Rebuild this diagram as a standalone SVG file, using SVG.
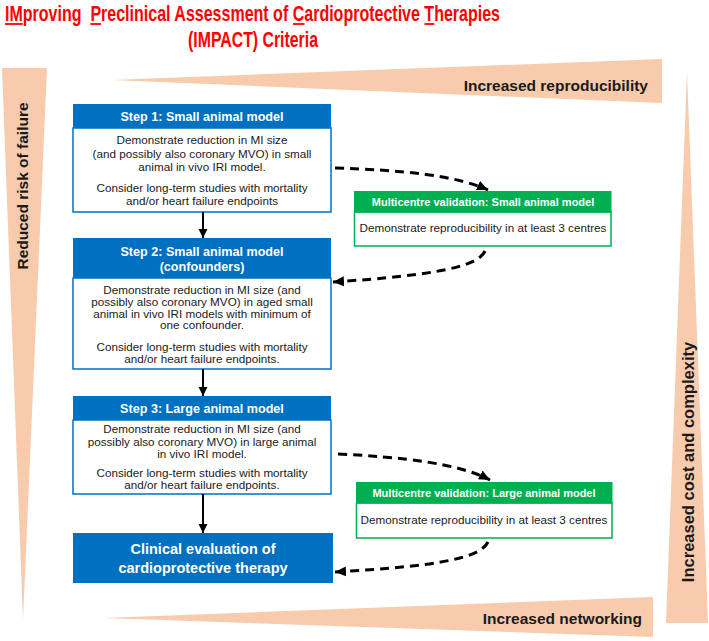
<svg xmlns="http://www.w3.org/2000/svg" width="709" height="641" viewBox="0 0 709 641">
<style>
.wedge{fill:#F8CBAD}
.wlabel{font-family:"Liberation Sans",Arial,sans-serif;font-weight:bold;font-size:15.5px;fill:#1a1a1a}
.title{font-family:"Liberation Sans",Arial,sans-serif;font-weight:bold;font-size:22px;fill:#FF0000}
.ul{stroke:#FF0000;stroke-width:1.8}
.hdr{fill:#0070C0}
.body{fill:#fff;stroke:#0070C0;stroke-width:1.5}
.ghdr{fill:#00B050}
.gbody{fill:#fff;stroke:#00B050;stroke-width:1.5}
.ht{font-family:"Liberation Sans",Arial,sans-serif;font-weight:bold;font-size:12.6px;fill:#fff;text-anchor:middle}
.gt{font-family:"Liberation Sans",Arial,sans-serif;font-weight:bold;font-size:11px;fill:#fff;text-anchor:middle}
.bt{font-family:"Liberation Sans",Arial,sans-serif;font-size:11.7px;fill:#1a1a1a;text-anchor:middle}
.ct{font-family:"Liberation Sans",Arial,sans-serif;font-weight:bold;font-size:14.5px;fill:#fff;text-anchor:middle}
.solid{stroke:#000;stroke-width:2;fill:none}
.dash{stroke:#000;stroke-width:3;fill:none;stroke-dasharray:9 6}
</style>
<defs>
<marker id="ah" markerUnits="userSpaceOnUse" markerWidth="12" markerHeight="12" viewBox="0 0 12 12" refX="11" refY="6" orient="auto">
<path d="M0,1 L11,6 L0,11 Z" fill="#000"/>
</marker>
<marker id="ahs" markerUnits="userSpaceOnUse" markerWidth="10" markerHeight="10" viewBox="0 0 10 10" refX="9" refY="5" orient="auto">
<path d="M0,0.5 L9,5 L0,9.5 Z" fill="#000"/>
</marker>
</defs>

<g id="title">
<text class="title" x="5" y="21" textLength="495" lengthAdjust="spacingAndGlyphs" xml:space="preserve">IMproving  Preclinical Assessment of Cardioprotective Therapies</text>
<line class="ul" x1="5" y1="24" x2="22.8" y2="24"/>
<line class="ul" x1="90.3" y1="24" x2="101" y2="24"/>
<line class="ul" x1="293" y1="24" x2="304.5" y2="24"/>
<line class="ul" x1="424.5" y1="24" x2="434.3" y2="24"/>
<text class="title" x="188" y="47" textLength="130" lengthAdjust="spacingAndGlyphs">(IMPACT) Criteria</text>
</g>

<g id="wedge-left">
<polygon class="wedge" points="2,68 47,68 23,620"/>
<text class="wlabel" transform="translate(28,186) rotate(-90)" text-anchor="middle">Reduced risk of failure</text>
</g>
<g id="wedge-top">
<polygon class="wedge" points="112,80 662,59 662,103"/>
<text class="wlabel" x="648" y="91" text-anchor="end">Increased reproducibility</text>
</g>
<g id="wedge-right">
<polygon class="wedge" points="687,72 708,623 666,623"/>
<text class="wlabel" style="font-size:16.5px" transform="translate(694,462) rotate(-90)" text-anchor="middle">Increased cost and complexity</text>
</g>
<g id="wedge-bottom">
<polygon class="wedge" points="104,618 653,597 653,637"/>
<text class="wlabel" x="642" y="624" text-anchor="end">Increased networking</text>
</g>

<g id="step1">
<rect class="body" x="73" y="128" width="258" height="84"/>
<rect class="hdr" x="73" y="104" width="258" height="24"/>
<text class="ht" x="202" y="120.5">Step 1: Small animal model</text>
<text class="bt" x="202" y="144">Demonstrate reduction in MI size</text>
<text class="bt" x="202" y="157.5">(and possibly also coronary MVO) in small</text>
<text class="bt" x="202" y="171">animal in vivo IRI model.</text>
<text class="bt" x="202" y="191.5">Consider long-term studies with mortality</text>
<text class="bt" x="202" y="205">and/or heart failure endpoints</text>
</g>

<g id="step2">
<rect class="body" x="73" y="278" width="258" height="91"/>
<rect class="hdr" x="73" y="238" width="258" height="40"/>
<text class="ht" x="202" y="255.5">Step 2: Small animal model</text>
<text class="ht" x="202" y="270.5">(confounders)</text>
<text class="bt" x="202" y="294">Demonstrate reduction in MI size (and</text>
<text class="bt" x="202" y="306">possibly also coronary MVO) in aged small</text>
<text class="bt" x="202" y="317.5">animal in vivo IRI models with minimum of</text>
<text class="bt" x="202" y="329">one confounder.</text>
<text class="bt" x="202" y="351">Consider long-term studies with mortality</text>
<text class="bt" x="202" y="362.5">and/or heart failure endpoints.</text>
</g>

<g id="step3">
<rect class="body" x="73" y="420" width="258" height="74"/>
<rect class="hdr" x="73" y="396" width="258" height="24"/>
<text class="ht" x="202" y="412.5">Step 3: Large animal model</text>
<text class="bt" x="202" y="433">Demonstrate reduction in MI size (and</text>
<text class="bt" x="202" y="445.5">possibly also coronary MVO) in large animal</text>
<text class="bt" x="202" y="457.5">in vivo IRI model.</text>
<text class="bt" x="202" y="477">Consider long-term studies with mortality</text>
<text class="bt" x="202" y="489">and/or heart failure endpoints.</text>
</g>

<g id="clinical">
<rect class="hdr" x="73" y="533" width="260" height="50"/>
<text class="ct" x="203" y="554">Clinical evaluation of</text>
<text class="ct" x="203" y="573">cardioprotective therapy</text>
</g>

<g id="multi-small">
<rect class="gbody" x="354.5" y="212" width="256.5" height="34"/>
<rect class="ghdr" x="354" y="191" width="257.5" height="21.5"/>
<text class="gt" x="483" y="206">Multicentre validation: Small animal model</text>
<text class="bt" x="483" y="232">Demonstrate reproducibility in at least 3 centres</text>
</g>

<g id="multi-large">
<rect class="gbody" x="356.5" y="503" width="255.5" height="35"/>
<rect class="ghdr" x="356" y="482" width="256.5" height="21.5"/>
<text class="gt" x="484" y="497">Multicentre validation: Large animal model</text>
<text class="bt" x="484" y="524">Demonstrate reproducibility in at least 3 centres</text>
</g>

<g id="connectors">
<path class="solid" d="M203,212 V238" marker-end="url(#ahs)"/>
<path class="solid" d="M203,369 V396" marker-end="url(#ahs)"/>
<path class="solid" d="M203,494 V533" marker-end="url(#ahs)"/>
<path class="dash" d="M335,168 C400,170 455,175 488,190" marker-end="url(#ah)"/>
<path class="dash" d="M485,251 C478,266 440,275 333,282" marker-end="url(#ah)"/>
<path class="dash" d="M338,454 C400,457 458,463 490,480" marker-end="url(#ah)"/>
<path class="dash" d="M488,542 C480,558 440,566 335,572" marker-end="url(#ah)"/>
</g>
</svg>
